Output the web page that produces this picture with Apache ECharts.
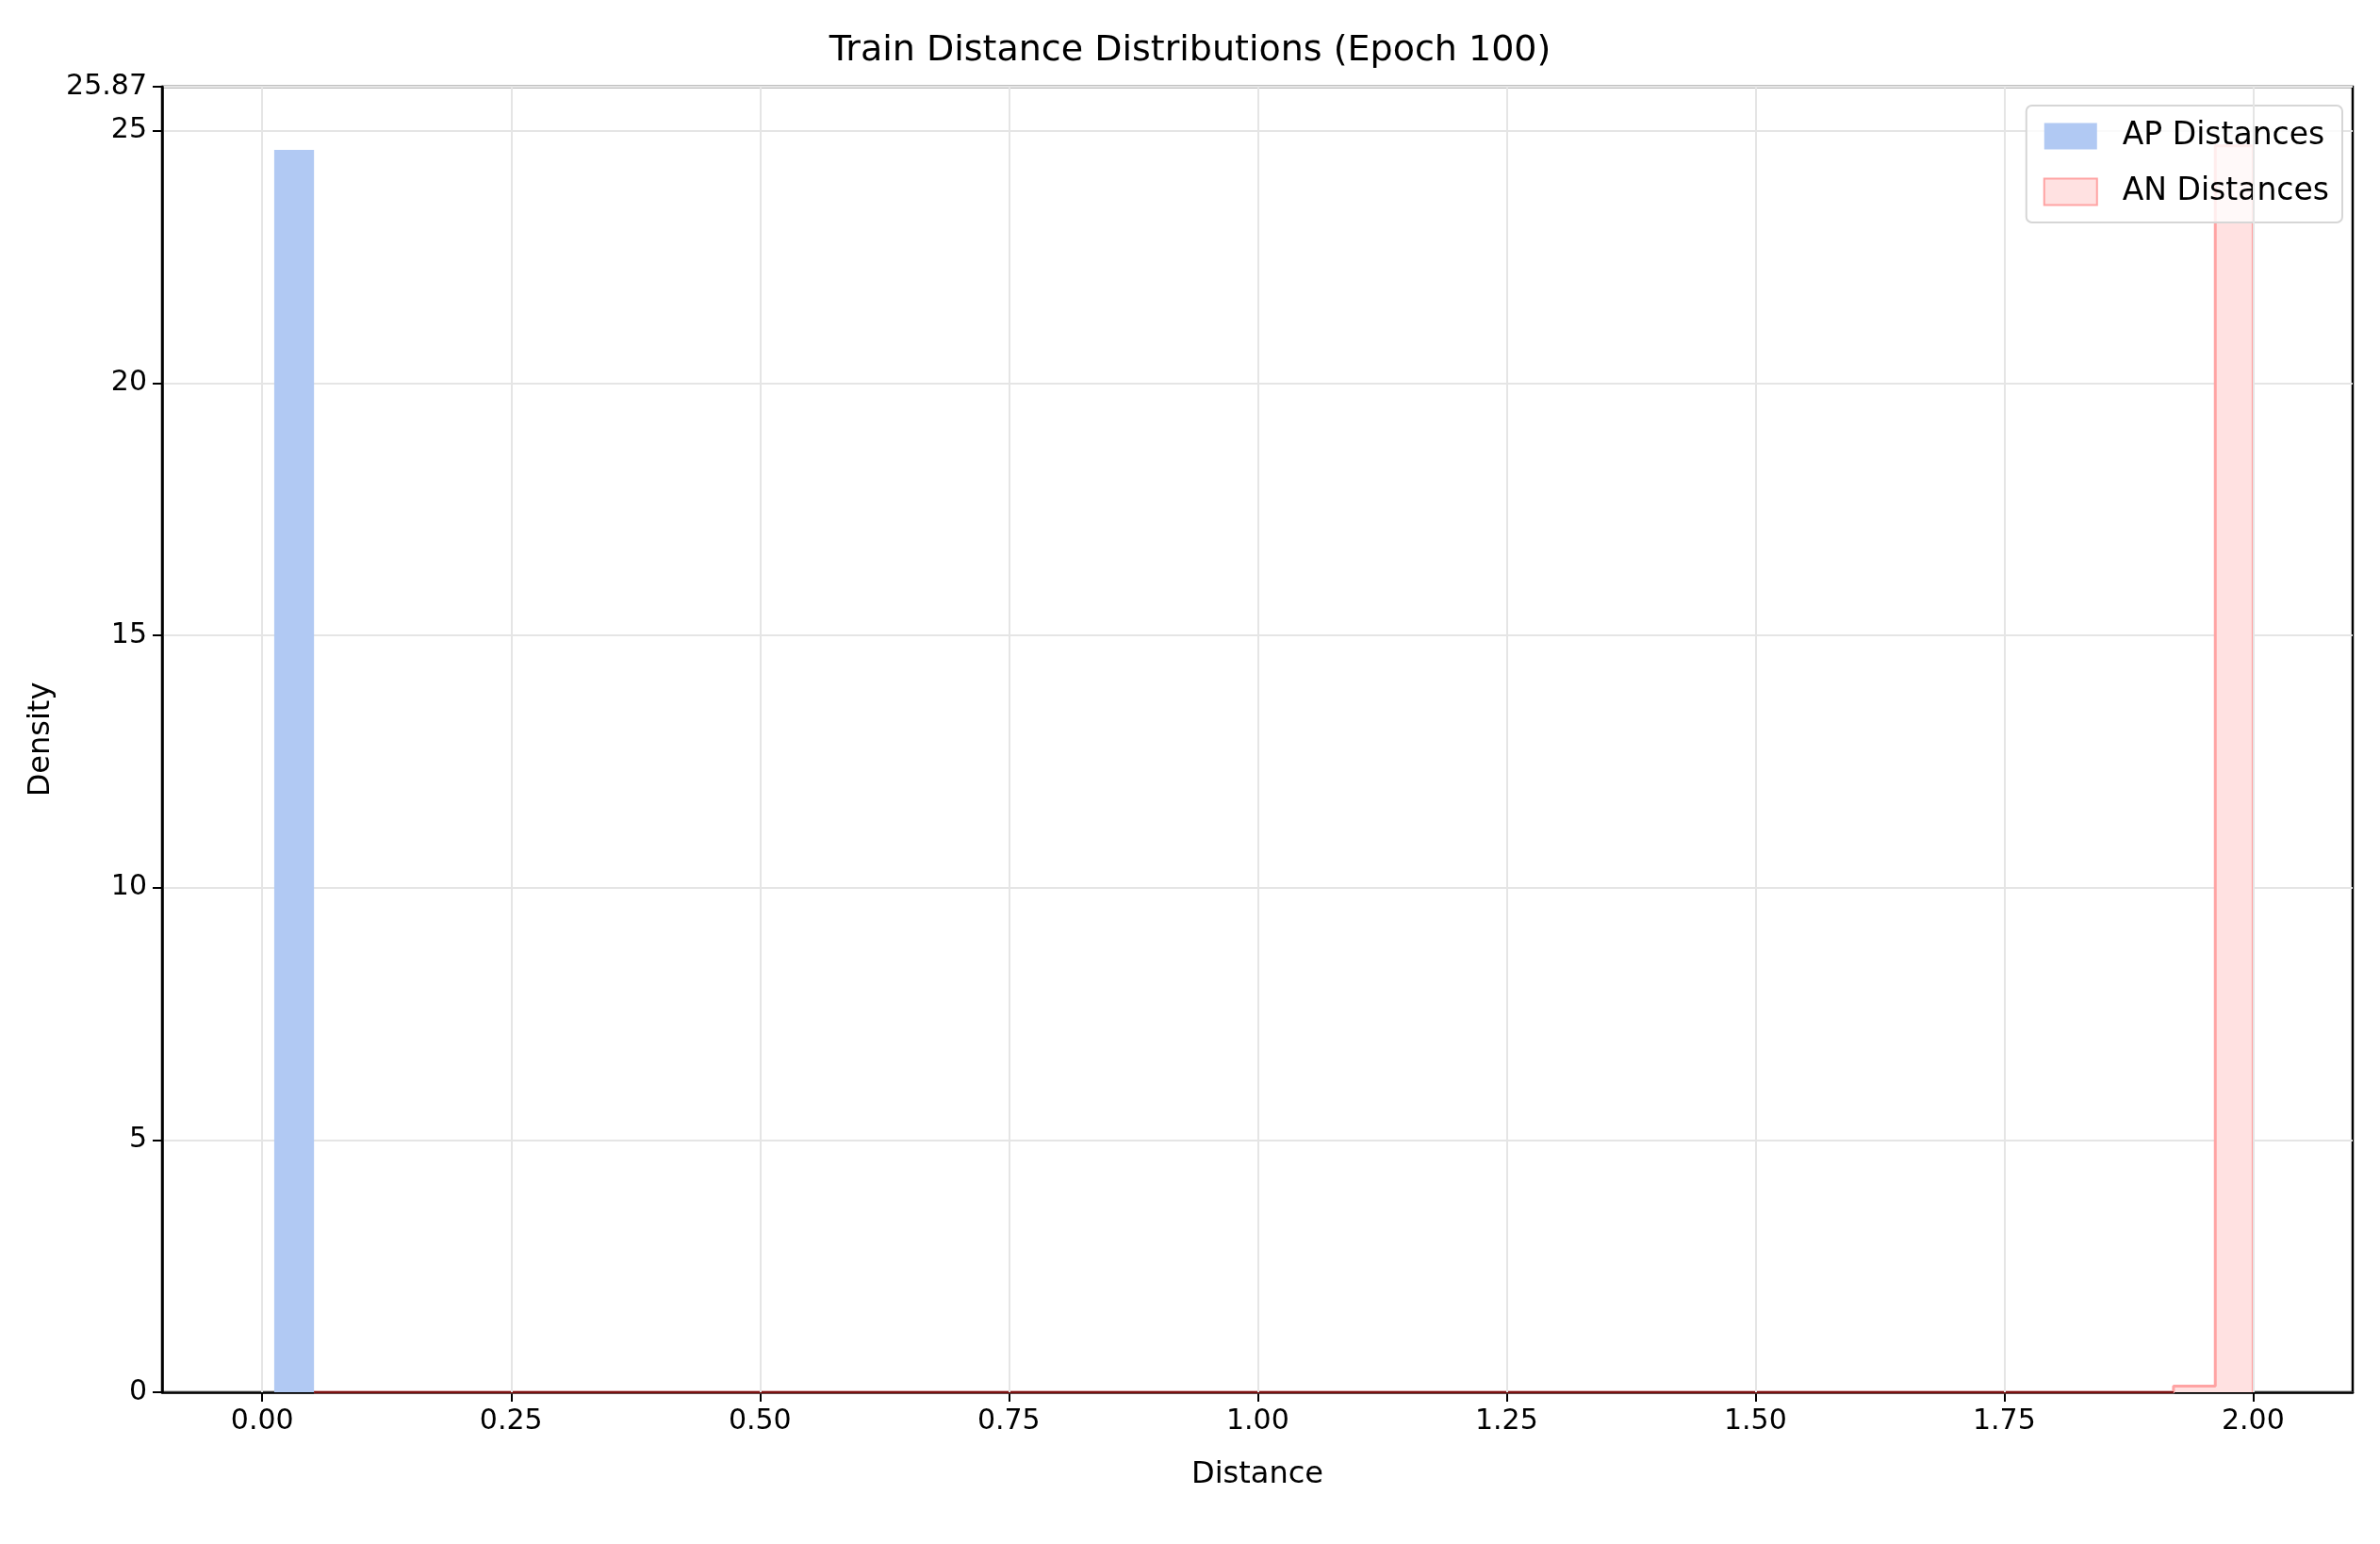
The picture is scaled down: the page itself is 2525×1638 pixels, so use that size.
<!DOCTYPE html>
<html><head><meta charset="utf-8">
<script src="https://cdn.jsdelivr.net/npm/echarts@6/dist/echarts.min.js"></script>
<style>html,body{margin:0;padding:0;background:#fff}#c{width:2525px;height:1638px}</style>
</head><body><div id="c"></div>
<script>
// AP histogram bins: [start, end, density]
const apBins = [[0.012, 0.052, 24.62]];
// AN histogram step outline: [x, density]
const anStep = [[0.052,0],[1.92,0],[1.92,0.12],[1.962,0.12],[1.962,24.7],[2.0,24.7],[2.0,0]];
const yTicks = [0,5,10,15,20,25];
const xTickLabels = ['0.00','0.25','0.50','0.75','1.00','1.25','1.50','1.75','2.00'];

const chart = echarts.init(document.getElementById('c'));
const F = 'DejaVu Sans';
const xt = xTickLabels.map(Number);
chart.setOption({
  animation:false,
  title:{text:'Train Distance Distributions (Epoch 100)',left:'center',top:30,textStyle:{fontFamily:F,fontSize:38,fontWeight:'normal',color:'#000'}},
  grid:{left:172,right:29,top:92,bottom:161,show:true,borderColor:'#000',borderWidth:2.5,backgroundColor:'transparent'},
  legend:{right:40,top:112,orient:'vertical',itemWidth:56,itemHeight:28,itemGap:26,
    padding:[16,14,16,18],borderColor:'#d6d6d6',borderWidth:2,borderRadius:6,backgroundColor:'rgba(255,255,255,0.8)',
    textStyle:{fontFamily:F,fontSize:33,color:'#000',padding:[0,0,0,22]},
    data:[{name:'AP Distances',icon:'rect'},{name:'AN Distances',icon:'rect'}]},
  xAxis:{type:'value',min:-0.1006,max:2.1,
    name:'Distance',nameLocation:'middle',nameGap:72,nameTextStyle:{fontFamily:F,fontSize:32,color:'#000'},
    axisLine:{onZero:false,lineStyle:{color:'#000',width:2.5}},
    axisTick:{show:true,length:10,customValues:xt,lineStyle:{color:'#000',width:2}},
    axisLabel:{fontFamily:F,fontSize:30,color:'#000',margin:16,showMinLabel:true,showMaxLabel:true,
      customValues:xt,formatter:v=>v.toFixed(2)},
    splitLine:{show:false}},
  yAxis:{type:'value',min:0,max:25.87,interval:5,
    name:'Density',nameLocation:'middle',nameGap:80,nameTextStyle:{fontFamily:F,fontSize:32,color:'#000'},
    axisLine:{show:true,onZero:false,lineStyle:{color:'#000',width:2.5}},
    axisTick:{show:true,length:10,lineStyle:{color:'#000',width:2}},
    axisLabel:{fontFamily:F,fontSize:30,color:'#000',margin:16},
    splitLine:{show:true,lineStyle:{color:'#e5e5e5',width:2}}},
  series:[
    {type:'line',data:[],silent:true,z:0,
     markLine:{silent:true,symbol:'none',label:{show:false},lineStyle:{color:'#e5e5e5',width:2,type:'solid'},
       data:xt.map(v=>({xAxis:v}))}},
    {name:'AP Distances',type:'custom',itemStyle:{color:'#b1c9f3'},
     renderItem:(params,api)=>{
       const p0=api.coord([api.value(0),0]), p1=api.coord([api.value(1),api.value(2)]);
       return {type:'rect',shape:{x:p0[0],y:p1[1],width:p1[0]-p0[0],height:p0[1]-p1[1]},style:{fill:'#b1c9f3'}};
     },
     encode:{x:[0,1],y:2},data:apBins},
    {name:'AN Distances',type:'line',data:anStep,symbol:'none',
     itemStyle:{color:'#ffe1e1',borderColor:'#ffa3a3',borderWidth:2},
     lineStyle:{color:'#ffa3a3',width:3},areaStyle:{color:'#ffe1e1',opacity:1}},
    {type:'line',data:[[0.052,0],[1.92,0]],symbol:'none',silent:true,lineStyle:{color:'#7a1010',width:2},z:3}
  ]
});
</script></body></html>
